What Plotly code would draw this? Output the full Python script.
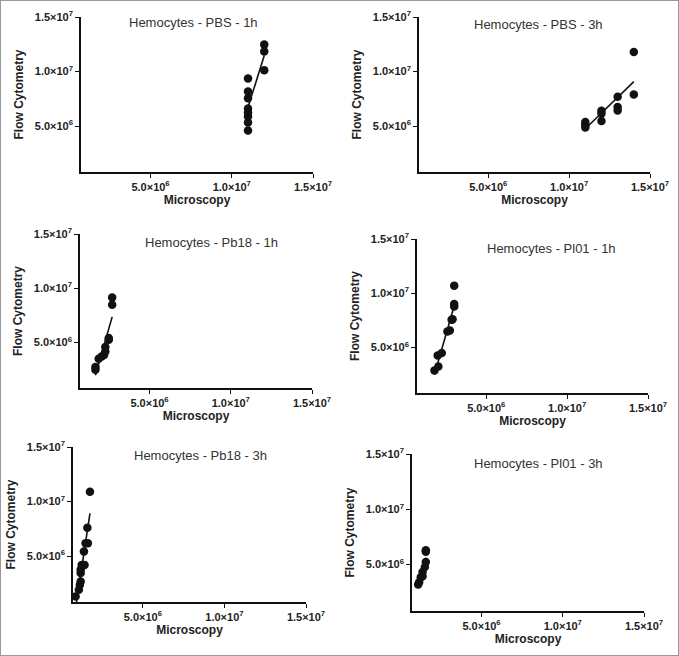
import numpy as np
import plotly.graph_objects as go

# ---------------- data (values in millions) ----------------
titles = ["Hemocytes - PBS - 1h", "Hemocytes - PBS - 3h",
          "Hemocytes - Pb18 - 1h", "Hemocytes - Pl01 - 1h",
          "Hemocytes - Pb18 - 3h", "Hemocytes - Pl01 - 3h"]

pbs1h_x = [11, 11, 11, 11, 11, 11, 11, 11, 12, 12, 12]
pbs1h_y = [9.36, 8.17, 7.56, 6.62, 6.25, 5.89, 5.34, 4.6, 12.47, 11.83, 10.12]

pbs3h_x = [11, 11, 11, 12, 12, 12, 13, 13, 13, 14, 14]
pbs3h_y = [5.37, 5.1, 4.88, 6.42, 6.15, 5.47, 7.69, 6.75, 6.43, 11.8, 7.91]

pb18_1h_x = [1.67, 1.67, 1.87, 2.05, 2.2, 2.28, 2.28, 2.49, 2.49, 2.70, 2.70]
pb18_1h_y = [2.73, 2.49, 3.5, 3.7, 3.85, 4.58, 4.17, 5.4, 5.25, 9.15, 8.47]

pl01_1h_x = [1.8, 2.04, 2.0, 2.25, 2.6, 2.75, 2.86, 2.92, 3.02, 3.02, 3.02]
pl01_1h_y = [2.88, 3.25, 4.26, 4.48, 6.47, 6.56, 7.55, 7.6, 8.78, 9.0, 10.7]

pb18_3h_x = [0.88, 1.08, 1.14, 1.19, 1.19, 1.19, 1.25, 1.43, 1.39, 1.49, 1.63, 1.6, 1.76]
pb18_3h_y = [1.31, 1.93, 2.38, 2.68, 3.45, 3.75, 4.2, 4.2, 5.42, 6.19, 6.19, 7.61, 10.9]

pl01_3h_x = [1.1, 1.16, 1.26, 1.37, 1.37, 1.51, 1.57, 1.57, 1.57]
pl01_3h_y = [3.19, 3.4, 3.86, 4.32, 3.95, 4.78, 5.24, 6.16, 6.3]

tick_vals = [5e6, 1e7, 1.5e7]
tick_text = ["5.0×10<sup>6</sup>", "1.0×10<sup>7</sup>", "1.5×10<sup>7</sup>"]

series = [(pbs1h_x, pbs1h_y), (pbs3h_x, pbs3h_y), (pb18_1h_x, pb18_1h_y),
          (pl01_1h_x, pl01_1h_y), (pb18_3h_x, pb18_3h_y), (pl01_3h_x, pl01_3h_y)]

# ---------------- layout geometry (pixels) ----------------
W, H = 679, 656
# (x_left, x_right, y_top, y_bottom) of each plot area
boxes = [(81, 313, 17, 172), (419, 650, 17, 172),
         (80, 312, 234, 388), (417, 648, 239, 393),
         (73, 306, 447, 602), (412, 644, 454, 611)]
title_pos = [(193, 23), (538, 24), (211, 242), (551, 248), (200, 455), (538, 463)]

FONT = "Liberation Sans, Arial, sans-serif"
fig = go.Figure()
layout = dict(width=W, height=H, margin=dict(l=0, r=0, t=0, b=0, autoexpand=False),
              paper_bgcolor="white", plot_bgcolor="white", showlegend=False,
              font=dict(family=FONT, color="#222"))
annotations = []

for i, ((xs, ys), box) in enumerate(zip(series, boxes)):
    n = i + 1
    xa = "x" if n == 1 else f"x{n}"
    ya = "y" if n == 1 else f"y{n}"
    X = np.array(xs) * 1e6
    Y = np.array(ys) * 1e6
    k, b = np.polyfit(X, Y, 1)
    lx = np.array([X.min(), X.max()])
    fig.add_trace(go.Scatter(x=lx, y=k * lx + b, mode="lines",
                             line=dict(color="#111", width=1.6),
                             xaxis=xa, yaxis=ya, hoverinfo="skip"))
    fig.add_trace(go.Scatter(x=X, y=Y, mode="markers",
                             marker=dict(color="#111", size=8.5, symbol="circle"),
                             xaxis=xa, yaxis=ya))
    x0, x1, y0, y1 = box
    axis_common = dict(showline=True, linecolor="#111", linewidth=1.6,
                       ticks="outside", ticklen=4, tickwidth=1.4, tickcolor="#111",
                       showgrid=False, zeroline=False, tickmode="array", automargin=False,
                       tickvals=tick_vals, ticktext=[f"<b>{t}</b>" for t in tick_text],
                       tickfont=dict(size=11, color="#222", family=FONT))
    layout["xaxis" if n == 1 else f"xaxis{n}"] = dict(
        axis_common, domain=[x0 / W, x1 / W], anchor=ya, range=[0.72e6, 1.5e7],
        title=dict(text="<b>Microscopy</b>", font=dict(size=12, color="#222"), standoff=3))
    layout["yaxis" if n == 1 else f"yaxis{n}"] = dict(
        axis_common, domain=[1 - y1 / H, 1 - y0 / H], anchor=xa, range=[0.8e6, 1.5e7],
        title=dict(text="<b>Flow Cytometry</b>", font=dict(size=12, color="#222"), standoff=9))
    tx, ty = title_pos[i]
    annotations.append(dict(text=titles[i], x=tx / W, y=1 - ty / H, xref="paper", yref="paper",
                            showarrow=False, xanchor="center", yanchor="middle",
                            font=dict(size=13, color="#333", family=FONT)))

layout["annotations"] = annotations
layout["shapes"] = [dict(type="rect", xref="paper", yref="paper", x0=0, y0=0, x1=1, y1=1,
                         line=dict(color="#999", width=2))]
fig.update_layout(**layout)
fig.write_html("out.html", config={"displayModeBar": False},
               post_script="document.body.style.margin='0';document.body.style.overflow='hidden';")
